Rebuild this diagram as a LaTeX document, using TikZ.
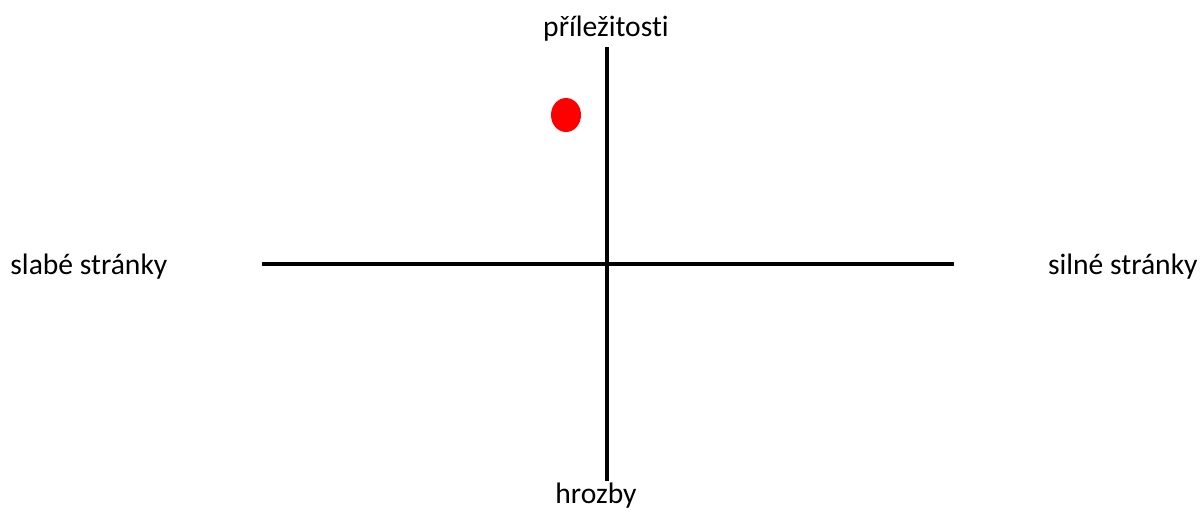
\documentclass[tikz,border=0pt]{standalone}
\usepackage{fontspec}
\setmainfont[Ligatures={NoCommon}]{Carlito}
\begin{document}
\begin{tikzpicture}[x=0.5pt,y=-0.5pt,
  axis/.style={line width=2pt,black},
  lbl/.style={font=\fontsize{14.8}{17}\selectfont,inner sep=0pt}]
\useasboundingbox (0,0) rectangle (1202,511);
\coordinate (L) at (262,264);
\coordinate (R) at (954,264);
\coordinate (T) at (607,47);
\coordinate (B) at (607,481);
\draw[axis] (L) -- (R);
\draw[axis] (T) -- (B);
\fill[red] (566,115) ellipse [x radius=15,y radius=17];
\node[lbl] (top) at (606,29) {příležitosti};
\node[lbl] (bot) at (596,496) {hrozby};
\node[lbl,anchor=west] (left) at (10,267) {slabé stránky};
\node[lbl,anchor=east] (right) at (1198,267) {silné stránky};
\end{tikzpicture}
\end{document}
